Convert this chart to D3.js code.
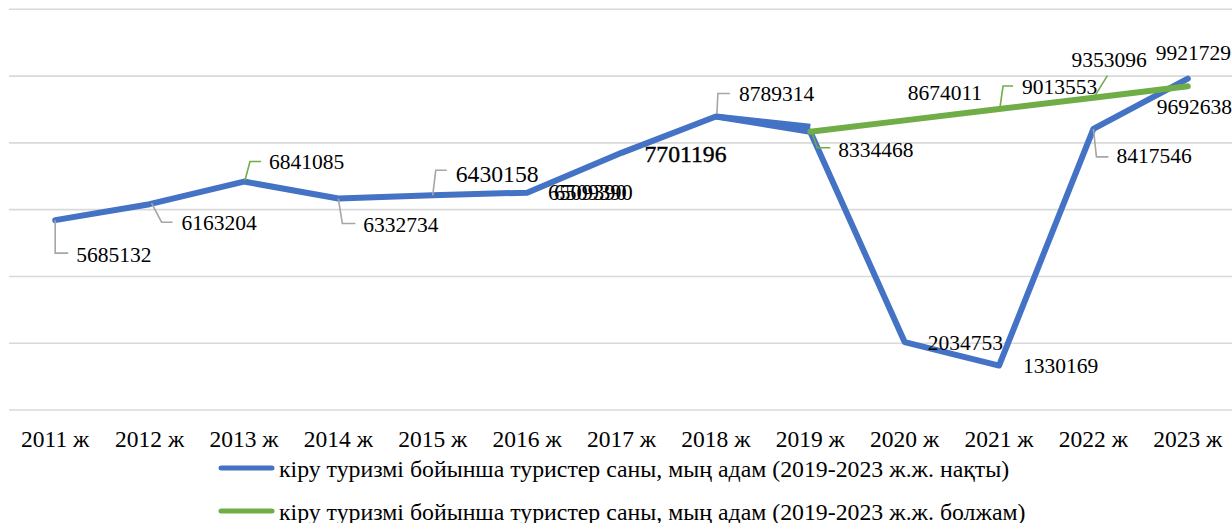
<!DOCTYPE html>
<html>
<head>
<meta charset="utf-8">
<script src="https://cdn.jsdelivr.net/npm/d3@7"></script>
<style>
  html, body { margin: 0; padding: 0; background: #fff; }
  svg { display: block; }
  svg text { font-family: "Liberation Serif", "Times New Roman", serif !important; fill: #000; }
</style>
</head>
<body>
<svg id="chart" width="1232" height="523"></svg>
<script>
// ---------- data ----------
const categories = ["2011 ж","2012 ж","2013 ж","2014 ж","2015 ж","2016 ж","2017 ж","2018 ж","2019 ж","2020 ж","2021 ж","2022 ж","2023 ж"];
const actualValues = [5685132, 6163204, 6841085, 6332734, 6430158, 6509390, 7701196, 8789314, 8334468, 2034753, 1330169, 8417546, 9921729];
const forecastValues = [null, null, null, null, null, null, null, null, 8334468, 8674011, 9013553, 9353096, 9692638];
// a second, overlapping copy of the 2018–2019 actual segment (visible as a thicker stroke)
const overlapValues = [null, null, null, null, null, null, null, 8789314, 8480000, null, null, null, null];
const overlapLabels = ["6509390", "6509390"]; // two labels printed on top of each other at 2016
const yTicks = [0, 2000000, 4000000, 6000000, 8000000, 10000000, 12000000];
const seriesNames = [
  "кіру туризмі бойынша туристер саны, мың адам (2019-2023 ж.ж. нақты)",
  "кіру туризмі бойынша туристер саны, мың адам (2019-2023 ж.ж. болжам)"
];

// ---------- layout ----------
const FONT = '"Liberation Serif", "Times New Roman", serif';
const BLUE = "#4472C4", GREEN = "#70AD47", GRID = "#d9d9d9", LEADER = "#a6a6a6";
const svg = d3.select("#chart").attr("font-family", FONT);
const x = d3.scaleBand().domain(categories).range([8, 1235]).paddingInner(0).paddingOuter(0);
const cx = c => x(c) + x.bandwidth() / 2;
const y = d3.scaleLinear().domain([0, 12000000]).range([410, 9.3]);

// gridlines
svg.append("g").selectAll("line").data(yTicks).join("line")
  .attr("x1", 9).attr("x2", 1232)
  .attr("y1", d => y(d)).attr("y2", d => y(d))
  .attr("stroke", GRID).attr("stroke-width", 1.6);

// x axis labels
const xAxis = d3.axisBottom(x).tickSize(0).tickPadding(0);
const gx = svg.append("g").attr("transform", "translate(0,410)").call(xAxis)
  .attr("font-family", FONT);
gx.select(".domain").remove();
gx.selectAll("text")
  .attr("y", 37).attr("dy", 0)
  .style("font-family", FONT)
  .style("font-size", "23.5px").attr("fill", "#000");

// lines
const line = d3.line()
  .defined(d => d.v !== null)
  .x(d => cx(d.c)).y(d => y(d.v));
const toPts = arr => arr.map((v, i) => ({ c: categories[i], v }));

svg.append("path").datum(toPts(actualValues)).attr("d", line)
  .attr("fill", "none").attr("stroke", BLUE).attr("stroke-width", 6)
  .attr("stroke-linejoin", "round").attr("stroke-linecap", "round");
svg.append("path").datum(toPts(overlapValues)).attr("d", line)
  .attr("fill", "none").attr("stroke", BLUE).attr("stroke-width", 6)
  .attr("stroke-linejoin", "round").attr("stroke-linecap", "butt");
svg.append("path").datum(toPts(forecastValues)).attr("d", line)
  .attr("fill", "none").attr("stroke", GREEN).attr("stroke-width", 6)
  .attr("stroke-linejoin", "round").attr("stroke-linecap", "round");

// ---------- data labels ----------
const labelSpecs = [
  { s: "a", i: 0,  dx: 21,  dy: 42,   fs: 21.5, lead: [[0,0],[0,33],[13,33]], lc: LEADER },
  { s: "a", i: 1,  dx: 32,  dy: 26,   fs: 21.5, lead: [[2,-1],[12,18],[23,18]], lc: LEADER },
  { s: "a", i: 2,  dx: 25,  dy: -12.6,fs: 21.5, lead: [[1,-1],[6,-20],[17,-20]], lc: GREEN },
  { s: "a", i: 3,  dx: 25,  dy: 33.5, fs: 21.5, lead: [[0,0],[4,25],[17,25]], lc: LEADER },
  { s: "a", i: 4,  dx: 23,  dy: -13,  fs: 23.7, lead: [[0,0],[3,-25],[14,-25]], lc: LEADER },
  { s: "a", i: 6,  dx: 23,  dy: 9,    fs: 23.7, bold: true },
  { s: "a", i: 7,  dx: 23,  dy: -15.5,fs: 21.5, lead: [[1,-3],[2,-23],[14,-23]], lc: LEADER },
  { s: "a", i: 9,  dx: 23,  dy: 8,    fs: 21.5 },
  { s: "a", i: 10, dx: 24,  dy: 7.5,  fs: 21.5 },
  { s: "a", i: 11, dx: 23,  dy: 34,   fs: 21.5, lead: [[0,0],[3,28],[15,28]], lc: LEADER },
  { s: "a", i: 12, dx: -32, dy: -19,  fs: 21.5 },
  { s: "f", i: 8,  dx: 28,  dy: 25,   fs: 21.5, lead: [[1,-1],[7,16],[20,16]], lc: GREEN },
  { s: "f", i: 9,  dx: 3,   dy: -20,  fs: 21.5 },
  { s: "f", i: 10, dx: 23,  dy: -15,  fs: 21.5, lead: [[1,-2],[4,-23],[14,-23]], lc: GREEN },
  { s: "f", i: 11, dx: -22, dy: -31,  fs: 21.5, lead: [[1,-1],[14,-22]], lc: GREEN },
  { s: "f", i: 12, dx: -31, dy: 28,   fs: 21.5 }
];
const gl = svg.append("g").attr("font-family", FONT);
labelSpecs.forEach(sp => {
  const vals = sp.s === "a" ? actualValues : forecastValues;
  const v = vals[sp.i];
  const px = cx(categories[sp.i]), py = y(v);
  if (sp.lead) {
    gl.append("path")
      .attr("d", d3.line()(sp.lead.map(p => [px + p[0], py + p[1]])))
      .attr("fill", "none").attr("stroke", sp.lc).attr("stroke-width", 1.6);
  }
  const t = gl.append("text")
    .attr("x", px + sp.dx).attr("y", py + sp.dy)
    .style("font-family", FONT)
    .style("font-size", sp.fs + "px")
    .text(String(v));
  if (sp.bold) t.attr("stroke", "#000").attr("stroke-width", 0.4);
});
// overlapping labels at 2016
{
  const px = cx(categories[5]), py = y(actualValues[5]);
  overlapLabels.forEach((lbl, k) => {
    gl.append("text").attr("x", px + 21 + k * 6).attr("y", py + 7.5)
      .style("font-family", FONT)
      .style("font-size", "22.5px").text(lbl);
  });
}

// ---------- legend ----------
const legend = svg.append("g").attr("font-family", FONT);
[[BLUE, 468, 477], [GREEN, 511, 520]].forEach((d, k) => {
  legend.append("line").attr("x1", 221).attr("x2", 272).attr("y1", d[1]).attr("y2", d[1])
    .attr("stroke", d[0]).attr("stroke-width", 5).attr("stroke-linecap", "round");
  legend.append("text").attr("x", 279).attr("y", d[2])
    .style("font-family", FONT)
    .style("font-size", "23.8px").text(seriesNames[k]);
});
</script>
</body>
</html>
